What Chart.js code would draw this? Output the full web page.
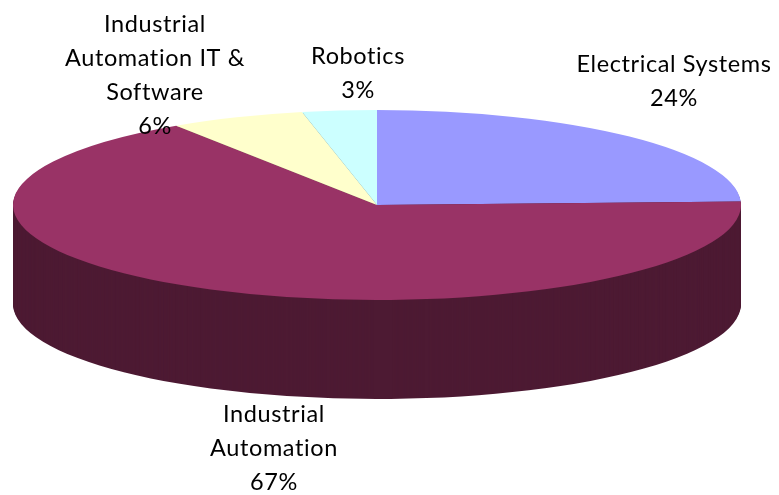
<!DOCTYPE html>
<html>
<head>
<meta charset="utf-8">
<style>html,body{margin:0;padding:0;background:#fff}canvas{display:block}</style>
<script src="https://cdn.jsdelivr.net/npm/chart.js@4"></script>
</head>
<body>
<canvas id="c" width="779" height="495"></canvas>
<script>
const categories = ['Electrical Systems', 'Industrial Automation', 'Industrial Automation IT & Software', 'Robotics'];
const shareValues = [24.4, 66.3, 6.0, 3.3];
const shareLabels = ['24%', '67%', '6%', '3%'];
const topColors = ['#9999ff', '#993366', '#ffffcc', '#ccffff'];
const sideColors = ['#4d1a33', '#4d1a33', '#80805f', '#668080'];

const labelBlocks = [
  { lines: ['Electrical Systems', shareLabels[0]], x: 674, y: 72 },
  { lines: ['Industrial', 'Automation', shareLabels[1]], x: 274, y: 422 },
  { lines: ['Industrial', 'Automation IT &', 'Software', shareLabels[2]], x: 155, y: 32 },
  { lines: ['Robotics', shareLabels[3]], x: 358, y: 64 }
];

const view = { cx: 377, cy: 205, rx: 364, ry: 95, depth: 99 };

function applyTilt(ctx, el, dy) {
  const r = el.outerRadius;
  ctx.translate(view.cx, view.cy + dy);
  ctx.scale(view.rx / r, view.ry / r);
  ctx.translate(-el.x, -el.y);
}

const tiltPlugin = {
  id: 'tilt',
  beforeDatasetsDraw(chart) {
    const ctx = chart.ctx;
    const arcs = chart.getDatasetMeta(0).data;
    for (let dy = view.depth; dy >= 1; dy--) {
      ctx.save();
      applyTilt(ctx, arcs[0], dy);
      arcs.forEach((arc, i) => {
        const saved = arc.options;
        arc.options = Object.assign({}, saved, { backgroundColor: sideColors[i] });
        arc.draw(ctx);
        arc.options = saved;
      });
      ctx.restore();
    }
    ctx.save();
    applyTilt(ctx, arcs[0], 0);
  },
  afterDatasetsDraw(chart) {
    chart.ctx.restore();
  },
  afterDraw(chart) {
    const ctx = chart.ctx;
    ctx.save();
    ctx.fillStyle = '#000';
    ctx.font = '23.5px Lato';
    ctx.letterSpacing = '0.6px';
    ctx.textAlign = 'center';
    ctx.textBaseline = 'alphabetic';
    labelBlocks.forEach(b => b.lines.forEach((t, i) => ctx.fillText(t, b.x, b.y + i * 34)));
    ctx.restore();
  }
};

new Chart(document.getElementById('c'), {
  type: 'pie',
  data: {
    labels: categories,
    datasets: [{ data: shareValues, backgroundColor: topColors, borderWidth: 0, clip: false }]
  },
  options: {
    responsive: false,
    animation: false,
    events: [],
    plugins: { legend: { display: false }, tooltip: { enabled: false }, title: { display: false } }
  },
  plugins: [tiltPlugin]
});
</script>
</body>
</html>
